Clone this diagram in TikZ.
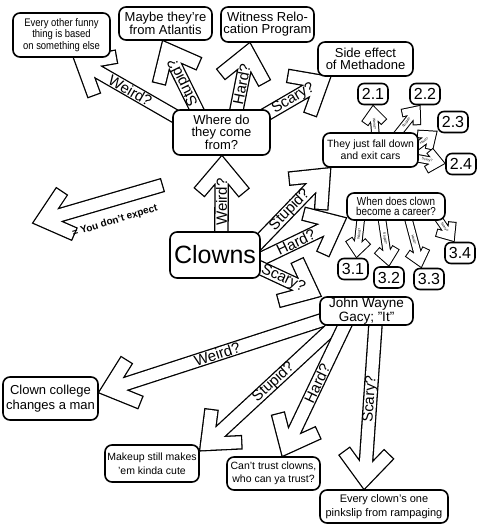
\documentclass[tikz,border=0pt]{standalone}
\usepackage{fontspec}
\setmainfont{Liberation Sans}
\newfontfamily\narrowfont[FakeStretch=0.86]{Liberation Sans}
\usetikzlibrary{calc,backgrounds}

\tikzset{
  barb len/.store in=\barblen,
  tip gap/.store in=\tipgap,
  neck gap/.store in=\neckgap,
  hollow/.style={draw=black, double=white, line cap=rect, line join=miter,
    to path={
      ($(\tikztotarget)!\tipgap!(\tikztostart)$) coordinate (tip)
      ($(tip)!\barblen!40:(\tikztostart)$) -- (tip) -- ($(tip)!\barblen!-40:(\tikztostart)$)
      (\tikztostart) -- ($(tip)!\neckgap!(\tikztostart)$) \tikztonodes}},
  big/.style={hollow, line width=1.3pt, double distance=12pt, barb len=28pt, tip gap=10pt, neck gap=7pt},
  small/.style={hollow, line width=1pt, double distance=6.5pt, barb len=11pt, tip gap=6pt, neck gap=4pt},
  lbl/.style={sloped, pos=.5, inner sep=0pt, font=\fontsize{15}{15}\selectfont},
  tinylbl/.style={sloped, pos=.5, inner sep=0pt, font=\fontsize{3.5}{3.5}\selectfont},
  box/.style={draw, line width=1.6pt, rounded corners=7pt, fill=white, align=center, inner sep=1pt},
  num/.style={box, rounded corners=6pt, minimum width=30pt, minimum height=21pt, font=\fontsize{16}{16}\selectfont},
}

\begin{document}
\begin{tikzpicture}[x=1pt, y=-1pt]
\useasboundingbox (0,0) rectangle (480,530);

% the boxes
\node[box, minimum width=97pt, minimum height=44pt, font=\narrowfont\fontsize{11}{10}\selectfont] (funny) at (61.5,35) {Every other funny\\thing is based\\on something else};
\node[box, minimum width=93pt, minimum height=33pt, font=\fontsize{13}{12}\selectfont] (atlantis) at (165.5,23.5) {Maybe they're\\from Atlantis};
\node[box, minimum width=93pt, minimum height=35pt, font=\fontsize{13}{12}\selectfont] (witness) at (267.5,24.5) {Witness Relo-\\cation Program};
\node[box, minimum width=95pt, minimum height=34pt, font=\fontsize{13}{12}\selectfont] (methadone) at (365.5,59) {Side effect\\of Methadone};
\node[box, minimum width=97pt, minimum height=45pt, font=\fontsize{13}{11.5}\selectfont] (where) at (221.5,132.5) {Where do\\they come\\from?};
\node[box, minimum width=95pt, minimum height=34pt, font=\fontsize{10.5}{12}\selectfont] (fall) at (370.5,150) {They just fall down\\and exit cars};
\node[box, minimum width=98pt, minimum height=27pt, font=\narrowfont\fontsize{11.5}{10.5}\selectfont] (career) at (396,206.5) {When does clown\\become a career?};
\node[box, minimum width=90pt, minimum height=46pt, font=\fontsize{25}{25}\selectfont] (clowns) at (215,255) {Clowns};
\node[box, minimum width=93pt, minimum height=28pt, font=\fontsize{13.5}{11}\selectfont] (gacy) at (366.5,311) {John Wayne\\Gacy; "It"};
\node[box, minimum width=95pt, minimum height=43pt, font=\fontsize{13}{15}\selectfont] (college) at (50.5,398.5) {Clown college\\changes a man};
\node[box, minimum width=94pt, minimum height=37pt, font=\fontsize{10.5}{14}\selectfont] (makeup) at (152,463.5) {Makeup still makes\\'em kinda cute};
\node[box, minimum width=93pt, minimum height=33pt, font=\fontsize{10.5}{13.5}\selectfont] (trust) at (273.5,473.5) {Can't trust clowns,\\who can ya trust?};
\node[box, minimum width=128pt, minimum height=33pt, font=\fontsize{11}{13.5}\selectfont] (pinkslip) at (384,506.5) {Every clown's one\\pinkslip from rampaging};

\node[num] (two1) at (373,94) {2.1};
\node[num] (two2) at (425,94) {2.2};
\node[num] (two3) at (453,122) {2.3};
\node[num] (two4) at (461,164) {2.4};
\node[num] (three1) at (353,269) {3.1};
\node[num] (three2) at (389,277.5) {3.2};
\node[num] (three3) at (429,279) {3.3};
\node[num] (three4) at (460,253) {3.4};

% legend
\coordinate (legend tail) at (156,187);
\coordinate (legend head) at (33,223);
\node[rotate=17, font=\bfseries\fontsize{10}{10}\selectfont] (expect) at (115,221) {= You don't expect};

\begin{scope}[on background layer]
  \draw[big] (legend tail) to (legend head);
  % where do they come from
  \draw[big] (where.160) to node[lbl] {Weird?} (funny.298);
  \draw[big] (where.137) to node[lbl, allow upside down] {Stupid?} (atlantis.261);
  \draw[big] (where.57) to node[lbl] {Hard?} (witness.226);
  \draw[big] (where.23) to node[lbl] {Scary?} (methadone.207);
  % clowns
  \draw[big] (clowns.75) to node[lbl] {Weird?} (where.271);
  \draw[big] (clowns.18) to node[lbl] {Stupid?} (fall.204);
  \draw[big] (clowns.355) to node[lbl] {Hard?} (career.193);
  \draw[big] (clowns.344) to node[lbl] {Scary?} (gacy.162);
  % gacy
  \draw[big] (gacy.192) to node[lbl] {Weird?} (college.7);
  \draw[big] (gacy.205) to node[lbl] {Stupid?} (makeup.15);
  \draw[big] (gacy.214) to node[lbl] {Hard?} (trust.63);
  \draw[big] (gacy.301) to node[lbl] {Scary?} (pinkslip.139);
  % small ones
  \draw[small] (fall.75) to node[tinylbl] {Weird?} (two1.270);
  \draw[small] (fall.32) to node[tinylbl] {Stupid?} (two2.247);
  \draw[small] (fall.6) to node[tinylbl] {Hard?} (two3.210);
  \draw[small] (fall.350) to node[tinylbl] {Scary?} (two4.178);
  \draw[small] (career.202) to node[tinylbl] {Weird?} (three1.73);
  \draw[small] (career.226) to node[tinylbl] {Stupid?} (three2.90);
  \draw[small] (career.312) to node[tinylbl] {Hard?} (three3.124);
  \draw[small] (career.342) to node[tinylbl] {Scary?} (three4.117);
\end{scope}
\end{tikzpicture}
\end{document}
